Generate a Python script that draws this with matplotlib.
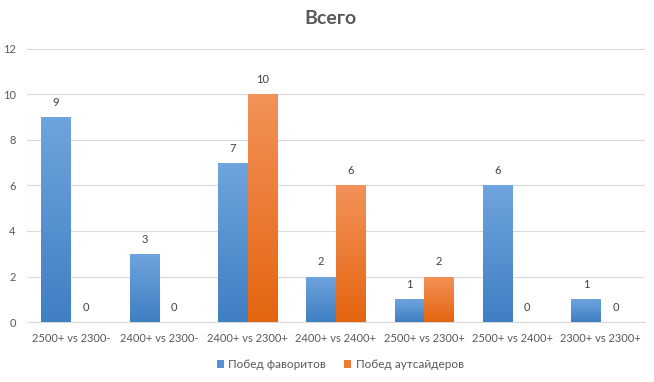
import numpy as np
import matplotlib.pyplot as plt
from matplotlib.colors import LinearSegmentedColormap

plt.rcParams['font.family'] = ['Lato', 'DejaVu Sans']

categories = ['2500+ vs 2300-', '2400+ vs 2300-', '2400+ vs 2300+', '2400+ vs 2400+',
              '2500+ vs 2300+', '2500+ vs 2400+', '2300+ vs 2300+']
fav_wins = [9, 3, 7, 2, 1, 6, 1]
out_wins = [0, 0, 10, 6, 2, 0, 0]
series_names = ['Побед фаворитов', 'Побед аутсайдеров']

blue_cmap = LinearSegmentedColormap.from_list('b', ['#3f7fc3', '#6fa4dd'])
orange_cmap = LinearSegmentedColormap.from_list('o', ['#e4650f', '#f39259'])

fig = plt.figure(figsize=(6.54, 3.82), dpi=100)
ax = fig.add_axes([0.041, 0.157, 0.945, 0.715])

x = np.arange(len(categories))
w = 0.335
grad = np.linspace(0, 1, 256).reshape(-1, 1)

def grad_bars(xs, vals, cmap, solid, label):
    bars = ax.bar(xs, vals, w, color=solid, label=label, zorder=2)
    for b in bars:
        h = b.get_height()
        if h <= 0:
            continue
        x0 = b.get_x()
        im = ax.imshow(grad, cmap=cmap, origin='lower', aspect='auto',
                       extent=[x0, x0 + b.get_width(), 0, h], zorder=3)
        im.set_clip_path(b)
    return bars

b1 = grad_bars(x - w / 2, fav_wins, blue_cmap, '#5592d3', series_names[0])
b2 = grad_bars(x + w / 2, out_wins, orange_cmap, '#ee7b35', series_names[1])

for xs, vals in [(x - w / 2, fav_wins), (x + w / 2, out_wins)]:
    for xi, v in zip(xs, vals):
        ax.text(xi, v + 0.4, str(v), ha='center', va='bottom', fontsize=8, color='#404040')

ax.set_xlim(-0.5, len(categories) - 0.5)
ax.set_ylim(0, 12)
ax.set_yticks(range(0, 13, 2))
ax.set_xticks(x)
ax.set_xticklabels(categories)
ax.tick_params(axis='both', length=0, labelsize=8, labelcolor='#595959')
ax.tick_params(axis='x', pad=8)
ax.tick_params(axis='y', pad=8)
ax.grid(axis='y', color='#d9d9d9', linewidth=0.8, zorder=0)
ax.set_axisbelow(True)
for s in ['top', 'right', 'left']:
    ax.spines[s].set_visible(False)
ax.spines['bottom'].set_color('#d9d9d9')

fig.suptitle('Всего', x=0.505, y=0.975, fontsize=14, fontweight='bold', color='#595959')

fig.legend(handles=[b1, b2], labels=series_names, loc='center', bbox_to_anchor=(0.52, 0.045),
           ncol=2, frameon=False, fontsize=8.5, labelcolor='#595959',
           handlelength=0.6, handleheight=0.6, handletextpad=0.4, columnspacing=1.5)

fig.savefig('out.png', dpi=100)
